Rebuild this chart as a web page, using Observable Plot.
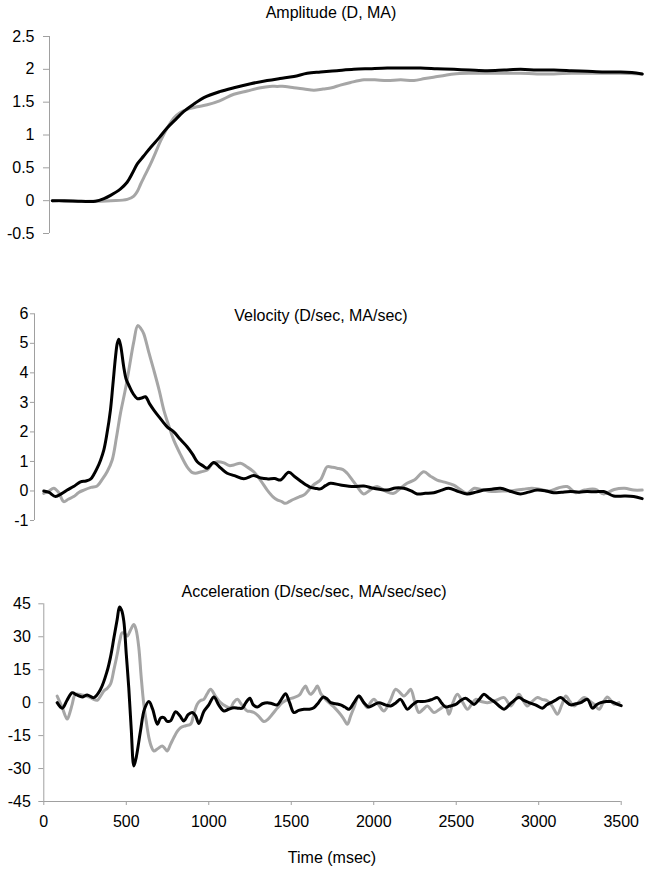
<!DOCTYPE html>
<html>
<head>
<meta charset="utf-8">
<script src="https://cdn.jsdelivr.net/npm/d3@7"></script>
<script src="https://cdn.jsdelivr.net/npm/@observablehq/plot@0.6"></script>
<style>
  html, body { margin: 0; padding: 0; background: #fff; }
  #wrap { position: relative; width: 647px; height: 879px; font-family: "Liberation Sans", Arial, sans-serif; }
  .panel { position: absolute; left: 0; }
  .ttl { position: absolute; font-size: 16px; line-height: 16px; color: #000; white-space: nowrap; transform: translate(-50%, -50%); }
</style>
</head>
<body>
<div id="wrap"></div>
<script>
// ---------- Data ----------
const panelTitles = ["Amplitude (D, MA)", "Velocity (D/sec, MA/sec)", "Acceleration (D/sec/sec, MA/sec/sec)"];
const xAxisLabel = "Time (msec)";
const ampTicks = [-0.5, 0, 0.5, 1, 1.5, 2, 2.5];
const velTicks = [-1, 0, 1, 2, 3, 4, 5, 6];
const accTicks = [-45, -30, -15, 0, 15, 30, 45];
const timeTicks = [0, 500, 1000, 1500, 2000, 2500, 3000, 3500];

// Amplitude (D = black, MA = gray)
const ampBlackT = [80,150,250,330,380,418,476,514,545,573,610,650,700,747,800,843,900,959,1050,1133,1230,1326,1400,1481,1558,1635,1730,1828,1920,2022,2120,2215,2310,2408,2500,2602,2700,2795,2890,2988,3090,3182,3280,3375,3440,3500];
const ampBlackV = [0,0,-0.01,-0.01,0.03,0.08,0.18,0.28,0.42,0.56,0.68,0.81,0.96,1.11,1.25,1.36,1.47,1.57,1.66,1.72,1.78,1.83,1.86,1.89,1.94,1.96,1.98,2.0,2.01,2.02,2.02,2.02,2.01,2.0,1.99,1.98,1.99,2.0,1.99,1.99,1.98,1.97,1.96,1.96,1.95,1.93];
const ampGrayT = [80,200,300,420,515,553,575,592,620,650,680,708,745,785,820,862,920,978,1050,1133,1210,1288,1340,1384,1430,1481,1540,1597,1650,1700,1750,1810,1887,1950,2022,2100,2177,2240,2312,2360,2408,2500,2602,2700,2795,2890,2988,3090,3182,3280,3375,3500];
const ampGrayV = [0,-0.01,-0.01,0,0.02,0.07,0.15,0.25,0.4,0.56,0.74,0.91,1.1,1.26,1.34,1.39,1.43,1.46,1.52,1.62,1.67,1.72,1.74,1.74,1.74,1.72,1.7,1.68,1.7,1.72,1.76,1.8,1.84,1.84,1.83,1.84,1.83,1.86,1.89,1.91,1.93,1.94,1.94,1.94,1.94,1.93,1.93,1.94,1.94,1.94,1.94,1.93];

// Velocity
const velBlackT = [80,110,147,180,214,250,290,320,347,370,385,405,423,440,461,475,490,500,509,520,537,550,566,590,614,640,661,685,709,740,760,785,823,860,899,930,957,990,1014,1051,1090,1128,1170,1223,1280,1320,1357,1400,1433,1480,1515,1547,1575,1604,1640,1661,1690,1718,1776,1852,1909,1966,2042,2090,2137,2180,2214,2260,2309,2350,2394,2450,2499,2550,2594,2640,2690,2750,2804,2850,2899,2950,2994,3040,3090,3140,3185,3230,3280,3337,3400,3451,3500];
const velBlackV = [0,-0.05,-0.19,-0.1,0.03,0.15,0.31,0.34,0.4,0.6,0.77,1.05,1.38,1.9,2.74,3.6,4.54,5.0,5.14,4.9,4.2,3.8,3.58,3.3,3.13,3.15,3.19,2.95,2.74,2.5,2.35,2.17,2.0,1.75,1.5,1.25,0.99,0.85,0.77,0.96,0.78,0.6,0.52,0.41,0.52,0.44,0.41,0.42,0.37,0.63,0.48,0.34,0.22,0.12,0.08,0.07,0.18,0.26,0.2,0.15,0.17,0.09,0.03,0.1,0.09,0.0,-0.1,-0.08,-0.06,0.02,0.09,-0.02,-0.1,-0.04,0.03,0.06,0.09,-0.02,-0.1,-0.04,0.03,0.0,-0.06,-0.04,-0.02,-0.04,-0.02,-0.03,-0.02,-0.17,-0.17,-0.19,-0.26];
const velGrayT = [80,110,137,165,194,220,251,280,309,350,385,415,442,471,495,518,545,566,594,617,635,651,680,709,740,766,795,823,860,899,930,947,980,1014,1040,1071,1110,1140,1166,1204,1240,1280,1320,1357,1390,1414,1440,1461,1485,1509,1540,1566,1590,1620,1661,1680,1699,1730,1756,1790,1814,1840,1871,1909,1950,1985,2030,2080,2120,2156,2200,2252,2290,2328,2370,2423,2460,2499,2540,2580,2640,2700,2760,2820,2870,2920,2970,3020,3071,3120,3170,3230,3280,3340,3400,3451,3500];
const velGrayV = [-0.08,0.0,0.09,-0.05,-0.36,-0.28,-0.19,-0.05,0.03,0.12,0.17,0.4,0.65,1.05,1.8,2.62,3.4,4.09,5.04,5.6,5.5,5.33,4.7,4.09,3.4,2.74,2.2,1.72,1.25,0.82,0.62,0.6,0.65,0.71,0.9,0.99,0.95,0.86,0.88,0.94,0.82,0.65,0.35,0.03,-0.2,-0.3,-0.36,-0.42,-0.35,-0.28,-0.2,-0.14,0.0,0.2,0.37,0.6,0.82,0.8,0.77,0.72,0.6,0.4,0.15,-0.1,0.05,0.15,0.0,-0.08,0.1,0.26,0.38,0.65,0.5,0.37,0.3,0.2,0.05,-0.08,0.09,0.05,-0.02,0.0,0.01,0.06,0.09,0.05,0.0,0.1,0.15,-0.06,0.03,0.06,-0.1,0.05,0.09,0.03,0.03];

// Acceleration
const accBlackT = [81,112,140,172,200,233,263,303,344,384,405,425,445,459,472,485,500,515,530,546,560,586,610,637,660,688,708,728,748,768,799,825,849,875,900,920,940,970,1000,1031,1060,1092,1120,1152,1180,1203,1225,1249,1270,1294,1325,1355,1385,1415,1440,1466,1490,1516,1545,1577,1610,1637,1665,1694,1720,1739,1770,1799,1825,1850,1880,1910,1940,1971,2000,2031,2070,2103,2135,2163,2185,2204,2235,2264,2295,2325,2355,2386,2410,2436,2465,2497,2527,2557,2585,2608,2640,2668,2700,2729,2760,2790,2835,2880,2910,2941,2980,3022,3048,3073,3100,3133,3165,3194,3225,3255,3295,3326,3350,3376,3410,3437,3470,3500];
const accBlackV = [0,-2.5,1,4.5,3.5,2.6,3.5,2.3,6.1,14.4,21,29.5,38,43.5,42,37.1,22,6.8,-12,-28.8,-25,-12.9,-3,0.5,-3,-9.8,-7,-6.8,-8.5,-8.3,-4.1,-6,-8.3,-5.5,-4.5,-6,-9.5,-4,-1,2.6,-1,-3.8,-3,-2.3,-2.5,-2.5,0,2.0,-1,-2.0,-0.5,0,-0.5,-1.0,1.5,4.1,0,-4.5,-3.5,-3.0,-3,-2.3,0,2.6,1.5,0,-0.5,-1.0,-2,-3.0,0,3.0,0,-2.0,-1,0,-1,-1.5,0,1.5,-1,-3.0,-1,0.5,0.5,0.8,1.5,2.3,0,-2.0,-1.5,-0.8,1,2.0,0.5,-0.8,1.5,3.8,2,0.5,-1.5,-3.0,0,2.3,1,0,-1,-2.5,-1,0,1,2.3,0.5,-1.0,-0.5,0,1.5,-2.5,-1,0,0.5,0.5,-0.5,-1.4];
const accGrayT = [81,112,142,160,172,192,230,260,290,324,344,364,384,404,425,445,460,475,490,506,525,546,560,576,590,606,620,637,652,667,690,718,735,748,768,788,810,829,860,890,910,930,950,970,990,1011,1040,1072,1100,1132,1150,1173,1200,1233,1255,1274,1300,1334,1360,1385,1415,1446,1480,1516,1550,1570,1587,1600,1617,1640,1658,1680,1708,1739,1765,1789,1815,1840,1860,1880,1910,1935,1961,1980,2001,2030,2062,2100,2133,2160,2183,2205,2224,2250,2274,2300,2325,2345,2365,2400,2436,2456,2480,2507,2540,2568,2595,2618,2650,2689,2740,2790,2830,2855,2880,2905,2931,2960,2992,3020,3053,3085,3113,3140,3164,3190,3214,3245,3275,3305,3335,3366,3390,3416,3437,3457,3487];
const accGrayV = [3.0,-2.3,-7.5,-4,-0.8,3.8,3.5,3.0,2,1.1,3,5.3,6.5,8.4,15,22,28,31.8,31.5,30.3,33,35.6,33,25,12,-0.7,-8,-15.9,-20,-22,-21,-19.7,-21,-22,-19,-15.9,-13,-11.4,-10.5,-9.8,-5,-0.7,1,1.5,4,6.1,3,0,-1.5,-2.3,0,1.5,-1,-3.8,-4,-4.5,-6,-8.6,-7.5,-5.3,-2.5,0,1.5,2.3,3.5,6,7.6,5.5,3.8,5.5,7.6,4,1.5,-0.7,-2.5,-4.5,-7,-9.8,-6,-2.3,3.0,0.5,-2.3,0,1.5,-1,-3.8,1,6.1,4.5,3.0,4.5,6.1,0,-4.5,-3,-1.5,-3,-4.5,-3,-1.5,-5.3,0,3.8,0,-3.0,-0.5,1.5,0.5,0,1,2.3,-1.5,1,3.8,1,-1.5,0.5,2.3,1.5,0.8,-2,-5.3,-1,3.0,0.5,-1.5,0.5,2.3,1,-0.7,-3.0,0,2.6,1,-0.7,0];

// ---------- Drawing ----------
const FONT = '"Liberation Sans", Arial, sans-serif';
const AXIS = "#a0a0a0";
const GRAY = "#a6a6a6";
const wrap = document.getElementById("wrap");
const fmt = d => String(d);

function panel({top, height, xDomain, marginLeft, marginRight, marginTop, marginBottom, yDomain, yTicks, tickSize, tickPadding, grayT, grayV, blackT, blackV, showX}) {
  const marks = [
    Plot.ruleX([xDomain[0]], {stroke: AXIS, strokeWidth: 1}),
    Plot.axisY({ticks: yTicks, tickFormat: fmt, tickSize, tickPadding, stroke: AXIS, fill: "#000", fontSize: 16}),
    Plot.line(grayT, {x: grayT, y: grayV, stroke: GRAY, strokeWidth: 3, curve: "catmull-rom"}),
    Plot.line(blackT, {x: blackT, y: blackV, stroke: "#000", strokeWidth: 3, curve: "catmull-rom"})
  ];
  if (showX) {
    marks.unshift(Plot.ruleY([yDomain[0]], {stroke: AXIS, strokeWidth: 1}));
    marks.push(Plot.axisX({ticks: timeTicks, tickFormat: fmt, tickSize: 4, tickPadding: 10, stroke: AXIS, fill: "#000", fontSize: 16, label: null}));
  }
  const svg = Plot.plot({
    width: 647, height, marginLeft, marginRight, marginTop, marginBottom,
    x: {domain: xDomain, axis: showX ? undefined : null},
    y: {domain: yDomain},
    style: {fontFamily: FONT, fontSize: "16px", background: "transparent", overflow: "visible"},
    marks
  });
  svg.classList.add("panel");
  svg.style.top = top + "px";
  wrap.appendChild(svg);
}

// Amplitude panel
panel({top: 0, height: 260, xDomain: [64, 3500], marginLeft: 49, marginRight: 5.3, marginTop: 36, marginBottom: 27,
  yDomain: [-0.5, 2.5], yTicks: ampTicks, tickSize: 6, tickPadding: 9,
  grayT: ampGrayT, grayV: ampGrayV, blackT: ampBlackT, blackV: ampBlackV, showX: false});
// Velocity panel
panel({top: 260, height: 300, xDomain: [27, 3500], marginLeft: 34, marginRight: 5.3, marginTop: 53.3, marginBottom: 40,
  yDomain: [-1, 6], yTicks: velTicks, tickSize: 4, tickPadding: 2,
  grayT: velGrayT, grayV: velGrayV, blackT: velBlackT, blackV: velBlackV, showX: false});
// Acceleration panel
panel({top: 560, height: 319, xDomain: [0, 3500], marginLeft: 43.3, marginRight: 26.3, marginTop: 43.3, marginBottom: 78,
  yDomain: [-45, 45], yTicks: accTicks, tickSize: 5, tickPadding: 8,
  grayT: accGrayT, grayV: accGrayV, blackT: accBlackT, blackV: accBlackV, showX: true});

function label(text, x, y) {
  const d = document.createElement("div");
  d.className = "ttl";
  d.textContent = text;
  d.style.left = x + "px";
  d.style.top = y + "px";
  wrap.appendChild(d);
}
label(panelTitles[0], 331, 13);
label(panelTitles[1], 321, 316);
label(panelTitles[2], 314, 592);
label(xAxisLabel, 332, 858);
</script>
</body>
</html>
